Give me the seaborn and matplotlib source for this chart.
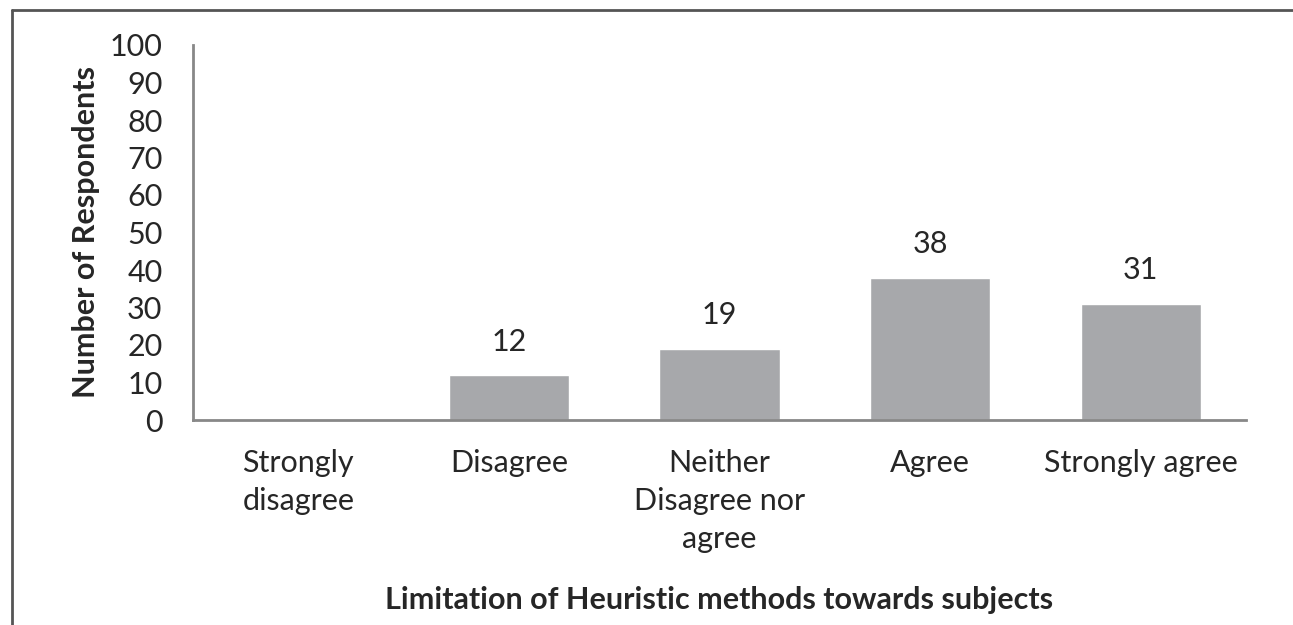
import matplotlib
matplotlib.use("Agg")
import matplotlib.pyplot as plt
import seaborn as sns
import pandas as pd
from matplotlib.lines import Line2D

# data
categories = ["Strongly\ndisagree", "Disagree", "Neither\nDisagree nor\nagree", "Agree", "Strongly agree"]
respondents = [0, 12, 19, 38, 31]
value_labels = ["", "12", "19", "38", "31"]
y_ticks = [0, 10, 20, 30, 40, 50, 60, 70, 80, 90, 100]

sns.set_style("white")
plt.rcParams["font.family"] = ["Lato", "DejaVu Sans"]
FS = 22

df = pd.DataFrame({"cat": categories, "n": respondents})

fig = plt.figure(figsize=(12.93, 6.25), dpi=100)
ax = fig.add_axes([193 / 1293, 1 - 420 / 625, (1246 - 193) / 1293, (420 - 45) / 625])

sns.barplot(data=df, x="cat", y="n", color="#a7a8ab", saturation=1, width=0.57, ax=ax)

ax.set_ylim(0, 100)
ax.set_xlim(-0.5, len(categories) - 0.5)
ax.set_yticks(y_ticks)
ax.set_yticklabels([str(t) for t in y_ticks], fontsize=FS)
ax.tick_params(axis="x", labelsize=FS, length=0, pad=21)
ax.tick_params(axis="y", length=0, pad=22)
for lbl in ax.get_xticklabels():
    lbl.set_linespacing(1.43)
    lbl.set_verticalalignment("top")

for cont in ax.containers:
    ax.bar_label(cont, labels=value_labels, padding=14, fontsize=FS)

sns.despine(ax=ax)
for side in ["left", "bottom"]:
    ax.spines[side].set_color("#888888")
    ax.spines[side].set_linewidth(2)

ax.set_ylabel("Number of Respondents", fontsize=FS, fontweight="bold", labelpad=7)
ax.set_xlabel("Limitation of Heuristic methods towards subjects", fontsize=FS, fontweight="bold", labelpad=24)

# outer frame (top and left only visible)
fig.add_artist(Line2D([12 / 1293, 1], [1 - 10 / 625, 1 - 10 / 625], color="#555555", lw=2, transform=fig.transFigure))
fig.add_artist(Line2D([12 / 1293, 12 / 1293], [0, 1 - 10 / 625], color="#555555", lw=2, transform=fig.transFigure))

fig.savefig("out.png", dpi=100)
